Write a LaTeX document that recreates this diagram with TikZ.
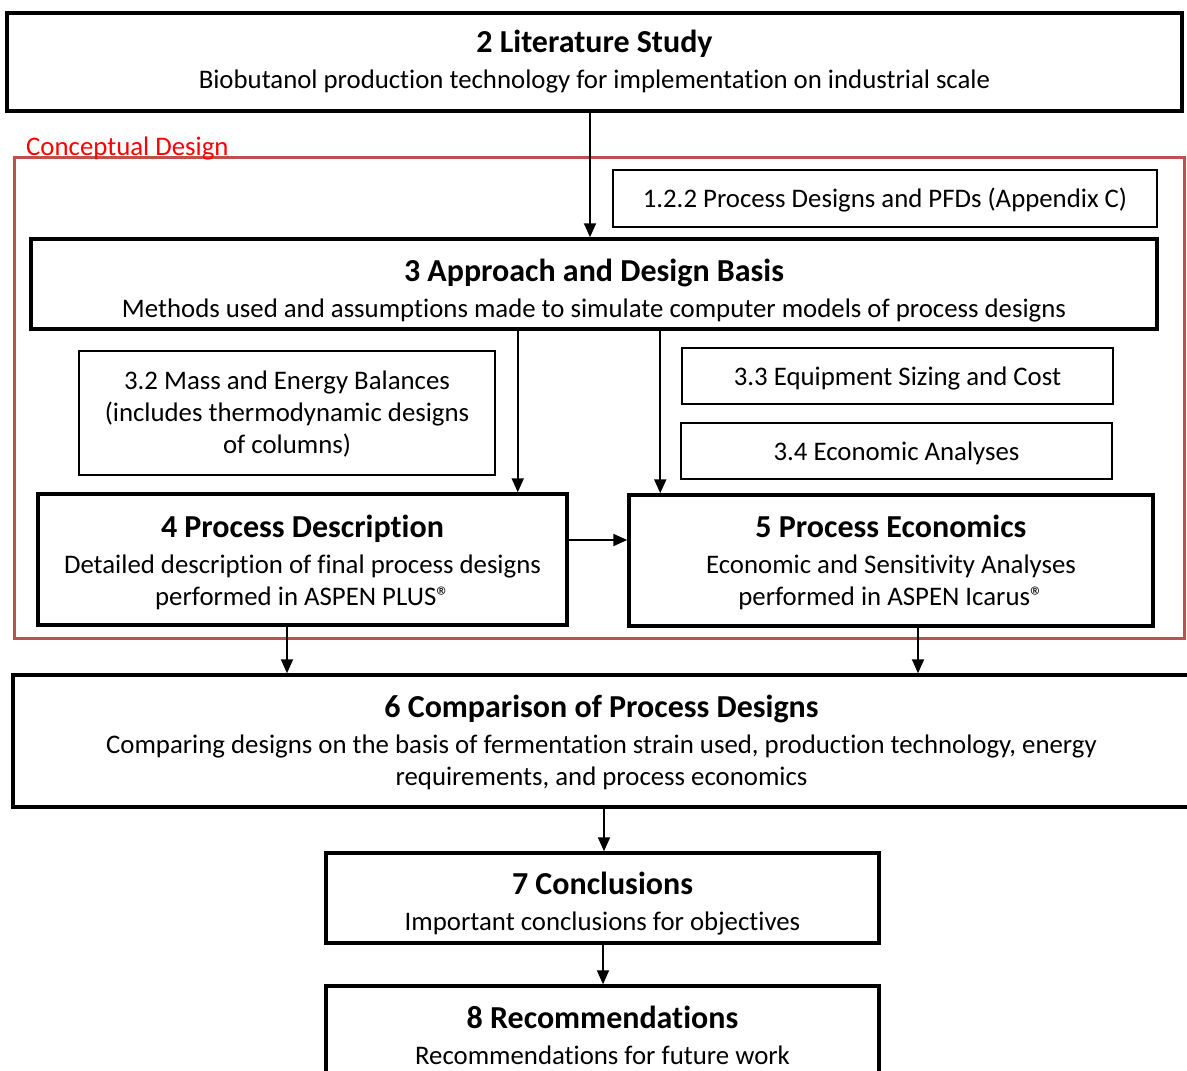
\documentclass[tikz,border=0pt]{standalone}
\usepackage{fontspec}
\setmainfont[Ligatures=NoCommon]{Carlito}
\usetikzlibrary{arrows.meta,calc}
\definecolor{framered}{RGB}{192,80,77}
\definecolor{lblred}{RGB}{255,0,0}
\tikzset{
  bigbox/.style={draw, line width=3.5pt, align=center, inner sep=0pt, font=\fontsize{26.8}{32}\selectfont},
  smallbox/.style={draw, line width=2.2pt, align=center, inner sep=0pt, font=\fontsize{26.8}{32}\selectfont},
  boxtext/.style={align=center, inner sep=0pt, font=\fontsize{26.8}{32}\selectfont},
  arr/.style={line width=2pt, -{Triangle[length=14pt,width=12pt]}},
  cdframe/.style={draw=framered, line width=3pt, inner sep=0pt},
}
\newcommand{\ttl}[1]{{\fontsize{32}{32}\selectfont\bfseries #1}}
\newcommand{\regmark}{®}
\begin{document}
\begin{tikzpicture}[x=1pt,y=-1pt]
\clip (0,0) rectangle (1187,1071);
\fill[white] (0,0) rectangle (1187,1071);

% conceptual design frame
\node[cdframe, minimum width=1170pt, minimum height=481pt] (cd) at (599,397.5) {};
\node[anchor=base west, inner sep=0pt, text=lblred, font=\fontsize{26.8}{30}\selectfont] (cdl) at (26,155) {Conceptual Design};

\node[bigbox, minimum width=1175pt, minimum height=98pt] (b2) at (594.5,62)
  {\ttl{2 Literature Study}\\[4pt] Biobutanol production technology for implementation on industrial scale};

\node[smallbox, minimum width=544pt, minimum height=57pt,
  label={[name=b122t, boxtext, yshift=-1pt]center:{1.2.2 Process Designs and PFDs (Appendix C)}}] (b122) at (885,198.5) {};

\node[bigbox, minimum width=1126pt, minimum height=90pt,
  label={[name=b3t, boxtext, yshift=-7pt]center:{\ttl{3 Approach and Design Basis}\\[4pt] Methods used and assumptions made to simulate computer models of process designs}}] (b3) at (594,284) {};

\node[smallbox, minimum width=416pt, minimum height=124pt,
  label={[name=b32t, boxtext, yshift=-1.5pt]center:{3.2 Mass and Energy Balances\\ (includes thermodynamic designs\\ of columns)}}] (b32) at (287,413) {};

\node[smallbox, minimum width=431pt, minimum height=56pt,
  label={[name=b33t, boxtext, yshift=-2pt]center:{3.3 Equipment Sizing and Cost}}] (b33) at (897.5,376) {};

\node[smallbox, minimum width=431pt, minimum height=56pt,
  label={[name=b34t, boxtext, yshift=-2pt]center:{3.4 Economic Analyses}}] (b34) at (896.5,451) {};

\node[bigbox, minimum width=529pt, minimum height=131pt,
  label={[name=b4t, boxtext, yshift=-2.5pt]center:{\ttl{4 Process Description}\\[4pt] Detailed description of final process designs\\ performed in ASPEN PLUS\regmark}}] (b4) at (302.5,559.5) {};

\node[bigbox, minimum width=524pt, minimum height=131pt,
  label={[name=b5t, boxtext, yshift=-2pt]center:{\ttl{5 Process Economics}\\[4pt] Economic and Sensitivity Analyses\\ performed in ASPEN Icarus\regmark}}] (b5) at (891,560.5) {};

\node[bigbox, minimum width=1177pt, minimum height=132pt,
  label={[name=b6t, boxtext, yshift=-1.5pt]center:{\ttl{6 Comparison of Process Designs}\\[4pt] Comparing designs on the basis of fermentation strain used, production technology, energy\\ requirements, and process economics}}] (b6) at (601.5,741) {};

\node[bigbox, minimum width=553pt, minimum height=90pt,
  label={[name=b7t, boxtext, yshift=-6pt]center:{\ttl{7 Conclusions}\\[4pt] Important conclusions for objectives}}] (b7) at (602.5,898) {};

\node[bigbox, minimum width=553pt, minimum height=90pt,
  label={[name=b8t, boxtext, yshift=-4pt]center:{\ttl{8 Recommendations}\\[4pt] Recommendations for future work}}] (b8) at (602.5,1031) {};

% connectors
\draw[arr] ([xshift=-4.5pt]b2.south) -- ([xshift=-4pt]b3.north);
\coordinate (a4) at ([xshift=-51pt]b4.north east);
\coordinate (a5) at ([xshift=33pt]b5.north west);
\draw[arr] (b3.south -| a4) -- (a4);
\draw[arr] (b3.south -| a5) -- (a5);
\draw[arr] ([yshift=19.5pt]b4.east) -- ([yshift=19.5pt]b4.east -| b5.west);
\coordinate (s4) at ([xshift=-15.5pt]b4.south);
\coordinate (s5) at ([xshift=27pt]b5.south);
\draw[arr] (s4) -- (s4 |- b6.north);
\draw[arr] (s5) -- (s5 |- b6.north);
\draw[arr] ([xshift=2.5pt]b6.south) -- ([xshift=1.5pt]b7.north);
\draw[arr] ([xshift=0.5pt]b7.south) -- ([xshift=0.5pt]b8.north);
\end{tikzpicture}
\end{document}
